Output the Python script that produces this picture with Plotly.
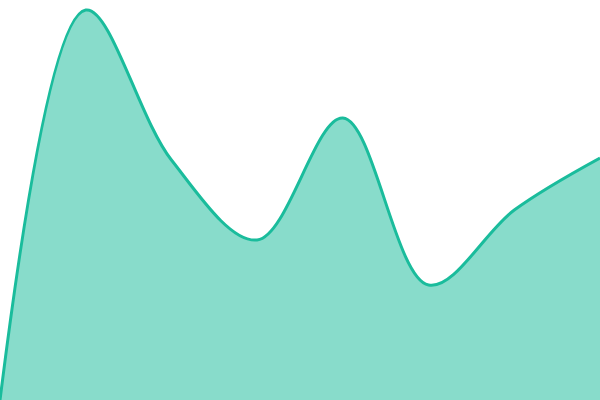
import plotly.graph_objects as go

# points, equally spaced
x_pos = [0, 1, 2, 3, 4, 5, 6, 7]
values = [0, 390, 240, 160, 282, 115, 190, 242]

fig = go.Figure()
fig.add_trace(go.Scatter(
    x=x_pos, y=values,
    mode="lines",
    line=dict(color="#1abc9c", width=3, shape="spline", smoothing=1.0),
    fill="tozeroy",
    fillcolor="rgba(26,188,156,0.52)",
    hoverinfo="skip",
))

fig.update_layout(
    width=600, height=400,
    margin=dict(l=0, r=0, t=0, b=0),
    paper_bgcolor="white",
    plot_bgcolor="white",
    showlegend=False,
    xaxis=dict(visible=False, range=[0, 7], fixedrange=True),
    yaxis=dict(visible=False, range=[0, 400], fixedrange=True),
)

# drop the page's default body margin so the chart sits flush in the window
fig.write_html("out.html", config={"displayModeBar": False},
               post_script="document.body.style.margin='0';")
